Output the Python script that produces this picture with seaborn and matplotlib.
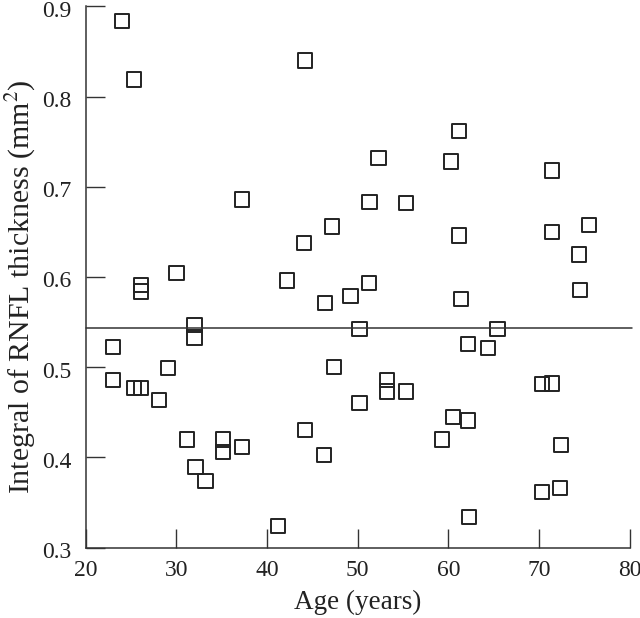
import matplotlib
matplotlib.use("Agg")
import matplotlib.pyplot as plt
import matplotlib.transforms as mtransforms
import seaborn as sns
import pandas as pd

# Age (years) and integral of RNFL thickness (mm^2)
age = [24.0, 25.3, 44.2, 61.2, 52.3, 60.3, 71.4, 37.2, 51.3, 55.3,
       47.2, 75.5, 71.4, 61.2, 44.1, 74.4, 30.0, 42.2, 51.2, 26.1,
       26.1, 74.5, 49.2, 61.4, 46.4, 32.0, 32.0, 50.2, 65.4, 62.2,
       64.4, 23.0, 47.35, 29.1, 23.0, 25.3, 26.1, 28.1, 53.2, 53.2,
       55.3, 50.2, 70.3, 71.4, 60.5, 62.2, 44.2, 31.2, 35.1, 35.1,
       37.2, 32.1, 33.2, 46.3, 59.3, 72.4, 70.3, 72.3, 62.3, 41.2]
rnfl = [0.884, 0.819, 0.840, 0.762, 0.732, 0.728, 0.718, 0.686, 0.683, 0.682,
        0.656, 0.658, 0.650, 0.646, 0.638, 0.625, 0.604, 0.596, 0.593, 0.591,
        0.584, 0.586, 0.579, 0.576, 0.571, 0.547, 0.533, 0.542, 0.542, 0.526,
        0.521, 0.522, 0.500, 0.499, 0.486, 0.477, 0.477, 0.464, 0.486, 0.473,
        0.473, 0.460, 0.481, 0.482, 0.445, 0.441, 0.430, 0.420, 0.420, 0.406,
        0.412, 0.389, 0.374, 0.403, 0.420, 0.414, 0.362, 0.366, 0.334, 0.324]
mean_level = 0.543

x_ticks = [20, 30, 40, 50, 60, 70, 80]
y_ticks = [0.3, 0.4, 0.5, 0.6, 0.7, 0.8, 0.9]

df = pd.DataFrame({"age": age, "rnfl": rnfl})

sns.set_style("ticks")
plt.rcParams["font.family"] = ["Liberation Serif", "DejaVu Serif"]
plt.rcParams["mathtext.fontset"] = "stix"

fig = plt.figure(figsize=(6.4, 6.18), dpi=100)
ax = fig.add_axes([0.134, 0.1138, 0.850, 0.876])

sns.scatterplot(data=df, x="age", y="rnfl", marker="s", s=105,
                facecolor="none", edgecolor="#222222", linewidth=1.4, ax=ax)
ax.axhline(mean_level, color="#333333", linewidth=1.1, xmin=0, xmax=1.004,
           clip_on=False)

ax.set_xlim(20, 80)
ax.set_ylim(0.3, 0.9)
ax.set_xticks(x_ticks)
ax.set_yticks(y_ticks)
ax.set_xticklabels([str(t) for t in x_ticks])
ax.set_yticklabels([f"{t:.1f}" for t in y_ticks])
ax.tick_params(direction="in", length=14, width=1.0, labelsize=17,
               color="#333333", labelcolor="#222222")
ax.tick_params(axis="y", pad=10)
ax.tick_params(axis="x", pad=9)

# y tick labels sit a touch below their ticks in the original
shift = mtransforms.ScaledTranslation(0, -2.5 / 100, fig.dpi_scale_trans)
for lab in ax.get_yticklabels():
    lab.set_transform(lab.get_transform() + shift)

for side in ["top", "right"]:
    ax.spines[side].set_visible(False)
for side in ["left", "bottom"]:
    ax.spines[side].set_linewidth(1.1)
    ax.spines[side].set_color("#333333")

ax.set_xlabel("Age (years)", fontsize=19.5, color="#222222", labelpad=6)
ax.set_ylabel(r"Integral of RNFL thickness (mm$^2$)", fontsize=21.5,
              color="#222222")
ax.yaxis.set_label_coords(-0.087, 0.482)

fig.savefig("out.png", dpi=100)
